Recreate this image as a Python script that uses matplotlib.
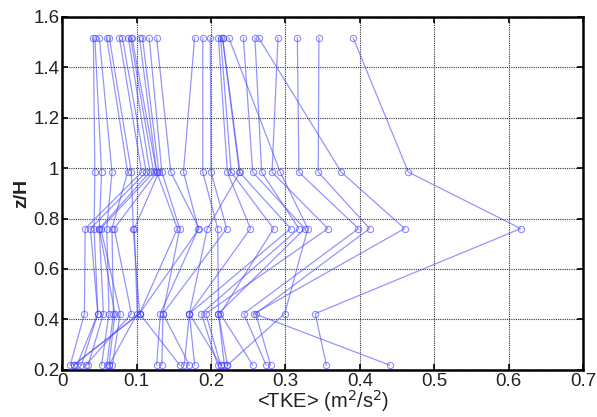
import matplotlib
matplotlib.use("Agg")
import matplotlib.pyplot as plt
import numpy as np

plt.rcParams['font.family'] = ['Liberation Sans', 'DejaVu Sans']

# heights (z/H) of the five measurement levels
z_levels = [1.516, 0.984, 0.760, 0.423, 0.219]

# TKE of each profile at each level (index = profile)
tke_z151 = [0.391, 0.264, 0.345, 0.316, 0.290, 0.224, 0.2435, 0.259, 0.2155, 0.213,
            0.210, 0.199, 0.189, 0.178, 0.042, 0.044, 0.050, 0.060, 0.0635, 0.077,
            0.081, 0.089, 0.092, 0.094, 0.104, 0.108, 0.117, 0.127, 0.2155]
tke_z098 = [0.465, 0.375, 0.344, 0.318, 0.282, 0.293, 0.256, 0.268, 0.238, 0.227,
            0.222, 0.200, 0.189, 0.163, 0.044, 0.053, 0.067, 0.088, 0.093, 0.107,
            0.113, 0.118, 0.123, 0.127, 0.127, 0.130, 0.134, 0.146, 0.239]
tke_z076 = [0.616, 0.460, 0.413, 0.398, 0.357, 0.330, 0.326, 0.318, 0.307, 0.284,
            0.253, 0.221, 0.209, 0.183, 0.043, 0.050, 0.060, 0.067, 0.0955, 0.031,
            0.038, 0.050, 0.052, 0.070, 0.155, 0.097, 0.158, 0.184, 0.195]
tke_z042 = [0.340, 0.258, 0.260, 0.244, 0.193, 0.299, 0.210, 0.187, 0.171, 0.2125,
            0.171, 0.1355, 0.210, 0.132, 0.048, 0.0555, 0.063, 0.069, 0.104, 0.030,
            0.048, 0.071, 0.078, 0.093, 0.104, 0.101, 0.1355, 0.104, 0.171]
tke_z022 = [0.355, 0.440, 0.280, 0.274, 0.213, 0.222, 0.218, 0.209, 0.213, 0.256,
            0.164, 0.171, 0.222, 0.127, 0.020, 0.035, 0.053, 0.060, 0.0155, 0.011,
            0.026, 0.063, 0.0675, 0.032, 0.0155, 0.063, 0.134, 0.158, 0.178]

x_ticks = [0, 0.1, 0.2, 0.3, 0.4, 0.5, 0.6, 0.7]
y_ticks = [0.2, 0.4, 0.6, 0.8, 1.0, 1.2, 1.4, 1.6]
x_ticklabels = ['0', '0.1', '0.2', '0.3', '0.4', '0.5', '0.6', '0.7']
y_ticklabels = ['0.2', '0.4', '0.6', '0.8', '1', '1.2', '1.4', '1.6']

fig = plt.figure(figsize=(5.97, 4.17), dpi=100)
ax = fig.add_axes([0.104, 0.113, 0.873, 0.847])

profiles = np.array([tke_z151, tke_z098, tke_z076, tke_z042, tke_z022])
for i in range(profiles.shape[1]):
    ax.plot(profiles[:, i], z_levels, '-o', color=(0.3, 0.3, 1.0), alpha=0.6,
            lw=0.9, ms=4.5, mfc='none', mec=(0.25, 0.25, 1.0), mew=0.8)

ax.set_xlim(0, 0.7)
ax.set_ylim(0.2, 1.6)
ax.set_xticks(x_ticks)
ax.set_xticklabels(x_ticklabels)
ax.set_yticks(y_ticks)
ax.set_yticklabels(y_ticklabels)
ax.grid(True, color='#333333', linestyle=(0, (1, 1)), linewidth=0.8)
ax.tick_params(direction='in', top=True, right=True, labelsize=13.5, length=4,
               width=1.2, pad=2, labelcolor='#222222')
for s in ax.spines.values():
    s.set_linewidth(1.8)
ax.set_xlabel('<TKE> (m$^2$/s$^2$)', fontsize=14.5, labelpad=-1, color='#222222')
ax.set_ylabel('z/H', fontsize=14, fontweight='bold', labelpad=2, color='#222222')

fig.savefig('out.png', dpi=100)
